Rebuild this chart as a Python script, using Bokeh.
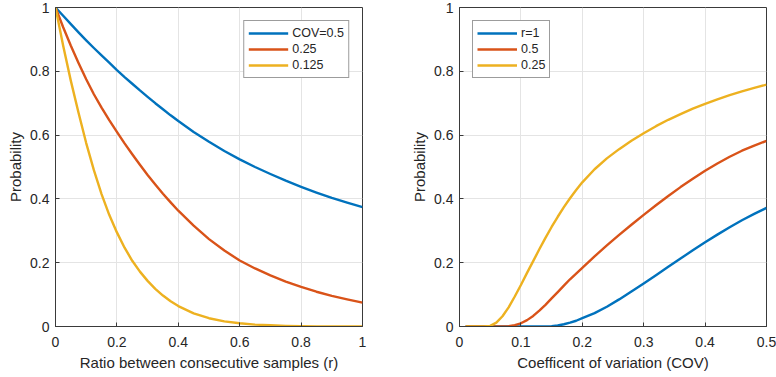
from bokeh.plotting import figure
from bokeh.layouts import row
from bokeh.models import Range1d, FixedTicker, Legend, LegendItem
from bokeh.embed import file_html
from bokeh.resources import INLINE

# ---- Left panel data: ratio between consecutive samples (r)
r_vals = [0, 0.025, 0.05, 0.075, 0.1, 0.125, 0.15, 0.175, 0.2, 0.225, 0.25, 0.275, 0.3,
          0.325, 0.35, 0.375, 0.4, 0.45, 0.5, 0.55, 0.6, 0.65, 0.7, 0.75, 0.8, 0.85, 0.9,
          0.95, 1.0]
p_cov_050 = [1.0, 0.974, 0.948, 0.922, 0.897, 0.873, 0.85, 0.827, 0.804, 0.782, 0.761, 0.74,
             0.72, 0.70, 0.681, 0.662, 0.644, 0.61, 0.579, 0.55, 0.524, 0.50, 0.478, 0.457,
             0.438, 0.42, 0.403, 0.388, 0.374]
p_cov_025 = [1.0, 0.938, 0.88, 0.826, 0.775, 0.728, 0.686, 0.647, 0.61, 0.574, 0.54, 0.507,
             0.475, 0.445, 0.416, 0.389, 0.363, 0.316, 0.274, 0.238, 0.207, 0.182, 0.16,
             0.141, 0.124, 0.109, 0.096, 0.085, 0.075]
p_cov_0125 = [1.0, 0.88, 0.77, 0.67, 0.575, 0.49, 0.415, 0.35, 0.295, 0.247, 0.206, 0.172,
              0.143, 0.118, 0.097, 0.079, 0.064, 0.041, 0.026, 0.016, 0.01, 0.006, 0.004,
              0.002, 0.001, 0.0005, 0.0002, 0.0, 0.0]
left_labels = ["COV=0.5", "0.25", "0.125"]

# ---- Right panel data: coefficient of variation (COV)
cov_vals = [0.01, 0.02, 0.03, 0.04, 0.05, 0.06, 0.07, 0.08, 0.09, 0.10, 0.11, 0.12, 0.13, 0.14,
            0.15, 0.16, 0.17, 0.18, 0.19, 0.20, 0.22, 0.24, 0.26, 0.28, 0.30, 0.32, 0.34, 0.36,
            0.38, 0.40, 0.42, 0.44, 0.46, 0.48, 0.50]
p_r_1 = [0, 0, 0, 0, 0, 0, 0, 0, 0, 0, 0, 0, 0, 0,
         0.001, 0.003, 0.007, 0.012, 0.018, 0.026, 0.042, 0.062, 0.085, 0.11, 0.135, 0.161,
         0.187, 0.213, 0.239, 0.264, 0.288, 0.311, 0.333, 0.353, 0.372]
p_r_05 = [0, 0, 0, 0, 0, 0, 0, 0.001, 0.004, 0.01, 0.02, 0.033, 0.05, 0.068,
          0.088, 0.108, 0.128, 0.148, 0.166, 0.184, 0.22, 0.254, 0.287, 0.319, 0.35, 0.38,
          0.409, 0.437, 0.463, 0.488, 0.511, 0.532, 0.551, 0.567, 0.582]
p_r_025 = [0, 0, 0, 0, 0.002, 0.012, 0.032, 0.06, 0.094, 0.13, 0.168, 0.205, 0.242, 0.278,
           0.312, 0.344, 0.374, 0.402, 0.428, 0.452, 0.493, 0.527, 0.556, 0.582, 0.606,
           0.628, 0.648, 0.666, 0.683, 0.698, 0.712, 0.725, 0.737, 0.748, 0.758]
right_labels = ["r=1", "0.5", "0.25"]

left_xticks = [0, 0.2, 0.4, 0.6, 0.8, 1]
right_xticks = [0, 0.1, 0.2, 0.3, 0.4, 0.5]
yticks = [0, 0.2, 0.4, 0.6, 0.8, 1]

COLORS = ["#0072BD", "#D95319", "#EDB120"]
FONT = "Liberation Sans"
TXT = "#262626"
AX = "#3a3a3a"


def style_axis(ax, ticks):
    ax.ticker = FixedTicker(ticks=ticks)
    ax.major_tick_in = 4
    ax.major_tick_out = 0
    ax.minor_tick_line_color = None
    ax.axis_line_color = AX
    ax.major_tick_line_color = AX
    ax.axis_line_width = 1
    ax.major_label_text_font = FONT
    ax.major_label_text_color = TXT
    ax.major_label_text_font_size = "14px"
    ax.axis_label_text_font = FONT
    ax.axis_label_text_color = TXT
    ax.axis_label_text_font_style = "normal"
    ax.axis_label_text_font_size = "15px"


def make_panel(xs, ys_list, labels, xmax, xticks, xlabel, legend_loc, border_right):
    p = figure(output_backend="svg", toolbar_location=None,
               frame_width=307, frame_height=319,
               min_border_left=55, min_border_right=border_right,
               min_border_top=7, min_border_bottom=45,
               x_range=Range1d(0, xmax), y_range=Range1d(0, 1),
               x_axis_label=xlabel, y_axis_label="Probability")
    p.background_fill_color = "white"
    p.border_fill_color = "white"
    p.outline_line_color = AX
    p.outline_line_width = 1

    style_axis(p.xaxis[0], xticks)
    style_axis(p.yaxis[0], yticks)
    p.xaxis[0].major_label_standoff = 10
    p.xaxis[0].axis_label_standoff = 4
    p.yaxis[0].major_label_standoff = 6
    p.yaxis[0].axis_label_standoff = 3

    p.xgrid.ticker = FixedTicker(ticks=xticks)
    p.ygrid.ticker = FixedTicker(ticks=yticks)
    p.xgrid.grid_line_color = "#e4e4e4"
    p.ygrid.grid_line_color = "#e4e4e4"

    items = []
    for ys, lab, col in zip(ys_list, labels, COLORS):
        r = p.line(xs, ys, line_color=col, line_width=2.4, line_join="round")
        items.append(LegendItem(label=lab, renderers=[r]))

    leg = Legend(items=items, location=legend_loc)
    leg.margin = 13
    leg.padding = 4
    leg.spacing = 0
    leg.glyph_width = 40
    leg.glyph_height = 16
    leg.label_height = 16
    leg.label_standoff = 4
    leg.label_text_font = FONT
    leg.label_text_font_size = "12.5px"
    leg.label_text_color = TXT
    leg.border_line_color = AX
    leg.border_line_width = 1
    leg.background_fill_color = "white"
    leg.background_fill_alpha = 1
    p.add_layout(leg, "center")
    return p


p1 = make_panel(r_vals, [p_cov_050, p_cov_025, p_cov_0125], left_labels, 1, left_xticks,
                "Ratio between consecutive samples (r)", "top_right", 42)
p2 = make_panel(cov_vals, [p_r_1, p_r_05, p_r_025], right_labels, 0.5, right_xticks,
                "Coefficent of variation (COV)", "top_left", 10)

layout = row(p1, p2)
open("out.html", "w").write(file_html(layout, INLINE))
